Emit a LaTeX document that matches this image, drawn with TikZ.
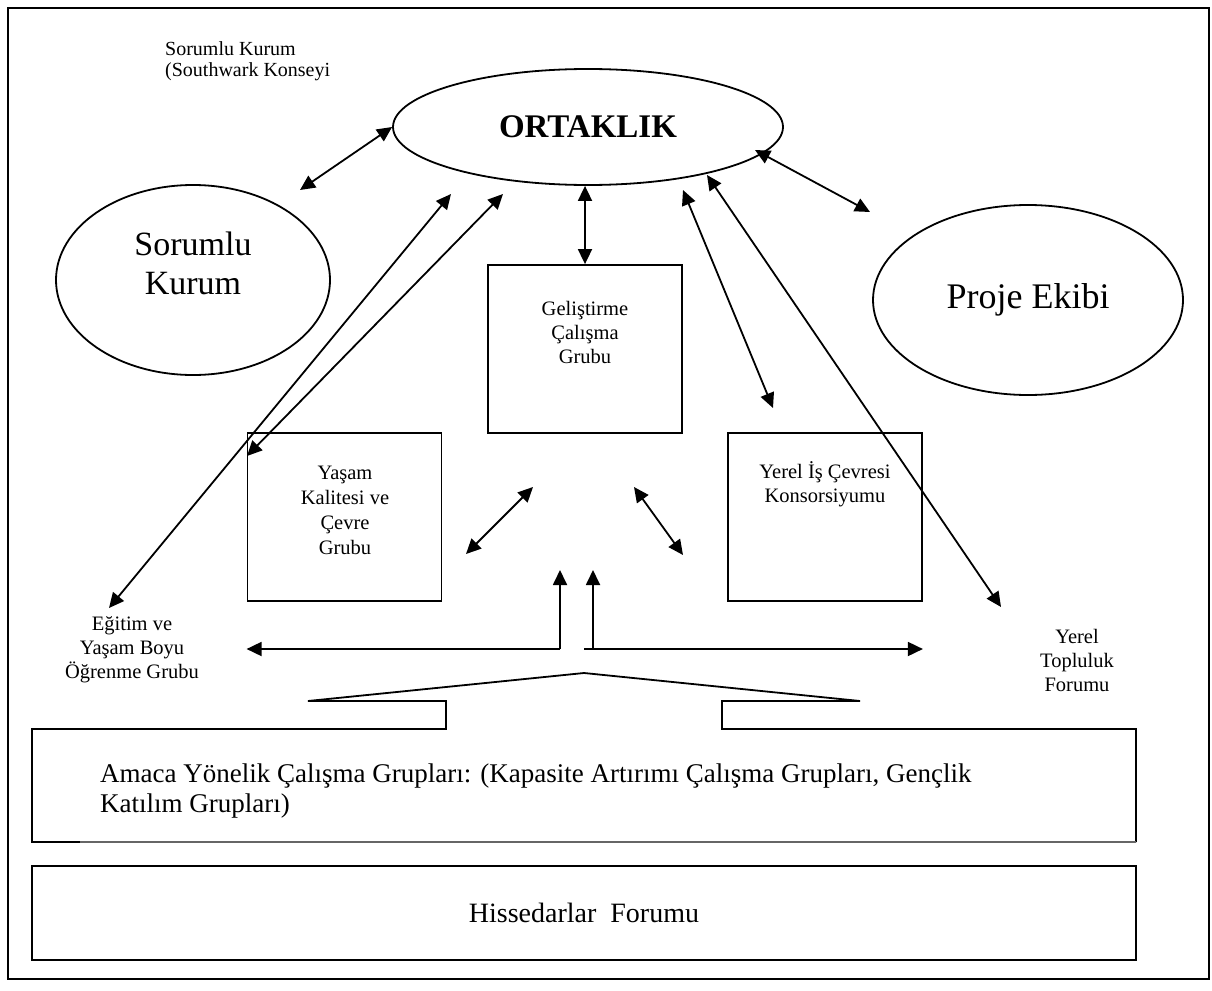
\documentclass[tikz,border=0pt]{standalone}
\usepackage{fontspec}
\setmainfont{Liberation Serif}
\usetikzlibrary{shapes.geometric,arrows.meta}

\tikzset{
  kutu/.style={draw, line width=1.8pt, minimum width=194pt, minimum height=168pt, inner sep=0pt},
  elips/.style={draw, ellipse, line width=1.8pt, inner sep=0pt},
  yazi/.style={align=center, font=\fontsize{20.5}{24}\selectfont, inner sep=0pt},
  buyuk/.style={align=center, font=\fontsize{34}{39}\selectfont, inner sep=0pt},
  ciftok/.style={{Triangle[length=15pt,width=14pt]}-{Triangle[length=15pt,width=14pt]}, line width=1.8pt},
  tekok/.style={-{Triangle[length=15pt,width=14pt]}, line width=1.8pt}
}

\begin{document}
\begin{tikzpicture}[x=1pt, y=-1pt]
  \useasboundingbox (0,0) rectangle (1212,990);
  \draw[line width=1.4pt] (8,8) rectangle (1209,979);

  % Elipsler
  \node[elips, minimum width=390pt, minimum height=116pt, font=\bfseries\fontsize{33}{36}\selectfont] (ortak) at (588,127) {ORTAKLIK};
  \node[elips, minimum width=274pt, minimum height=190pt] (sorumlu) at (193,280) {};
  \node[buyuk] (sorumluyazi) at (193,263) {Sorumlu\\Kurum};
  \node[elips, buyuk, font=\fontsize{36}{40}\selectfont, minimum width=310pt, minimum height=190pt] (proje) at (1028,300) {Proje Ekibi};

  % Kutular
  \node[kutu] (gel) at (585,349) {};
  \node[yazi] (gelyazi) at (585,332) {Geliştirme\\Çalışma\\Grubu};
  \node[kutu] (yasam) at (344.5,517) {};
  \node[yazi, font=\fontsize{20.5}{25}\selectfont] (yasamyazi) at (345,510) {Yaşam\\Kalitesi ve\\Çevre\\Grubu};
  \node[kutu] (yerelis) at (825,517) {};
  \node[yazi] (yerelisyazi) at (825,484) {Yerel İş Çevresi\\Konsorsiyumu};

  % Serbest yazilar
  \node[yazi, align=left, anchor=north west, font=\fontsize{20}{21}\selectfont] (konsey) at (165,41) {Sorumlu Kurum\\(Southwark Konseyi};
  \node[yazi] (egitim) at (132,650) {Eğitim ve\\Yaşam Boyu\\Öğrenme Grubu};
  \node[yazi] (topluluk) at (1077,660) {Yerel\\Topluluk\\Forumu};

  % Alt kutular
  \draw[line width=1.8pt] (80,842) -- (32,842) -- (32,729) -- (446,729) -- (446,701) -- (308,701)
    -- (584,673) -- (860,701) -- (722,701) -- (722,729) -- (1136,729) -- (1136,842);
  \draw[line width=1.8pt, black!60] (80,842) -- (1136,842);
  \node[anchor=west, align=left, inner sep=0pt, font=\fontsize{27}{30}\selectfont] (amaca) at (100,791)
    {Amaca Yönelik Çalışma Grupları: (Kapasite Artırımı Çalışma Grupları, Gençlik\\Katılım Grupları)};
  \node[draw, line width=1.8pt, minimum width=1104pt, minimum height=94pt, inner sep=0pt,
    font=\fontsize{28}{32}\selectfont] (hisse) at (584,913) {Hissedarlar\ \ Forumu};

  % Ok uclari
  \coordinate (sorumluuc) at (300,190);
  \coordinate (egitimuc) at (109,608);
  \coordinate (egitimust) at (451,194);
  \coordinate (yasamuc) at (247,456);
  \coordinate (yasamust) at (503,194);
  \coordinate (yerelisuc) at (773,408);
  \coordinate (yerelisust) at (683,190);
  \coordinate (toplulukuc) at (1001,607);
  \coordinate (toplulukust) at (707,175);
  \coordinate (projeuc) at (870,212);
  \coordinate (projeust) at (755,150);
  \coordinate (yasamsag) at (466,554);
  \coordinate (gelsol) at (533,487);
  \coordinate (gelsag) at (634,487);
  \coordinate (yerelissol) at (683,555);
  \coordinate (solalt) at (560,649);
  \coordinate (sagalt) at (593,649);
  \coordinate (orta) at (584,649);

  % Oklar
  \draw[ciftok] (sorumluuc) -- (ortak.west);
  \draw[ciftok] (egitimuc) -- (egitimust);
  \draw[ciftok] (yasamuc) -- (yasamust);
  \draw[ciftok] (gel.north |- ortak.south) -- (gel.north);
  \draw[ciftok] (yerelisust) -- (yerelisuc);
  \draw[ciftok] (toplulukust) -- (toplulukuc);
  \draw[ciftok] (projeust) -- (projeuc);
  \draw[ciftok] (yasamsag) -- (gelsol);
  \draw[ciftok] (gelsag) -- (yerelissol);
  \draw[tekok] (solalt) -- ++(0,-79);
  \draw[tekok] (sagalt) -- ++(0,-79);
  \draw[tekok] (solalt) -- (yasam.south west |- solalt);
  \draw[tekok] (orta) -- (yerelis.south east |- orta);
\end{tikzpicture}
\end{document}
